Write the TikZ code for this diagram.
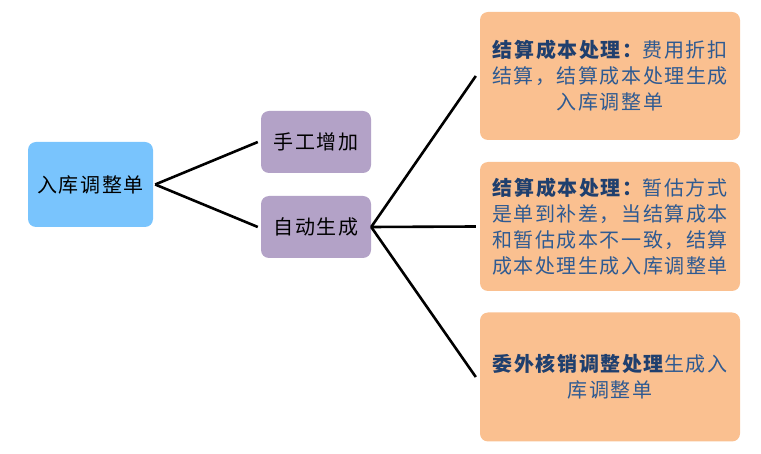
\documentclass[tikz,border=0pt]{standalone}
\usepackage{fontspec}
\newfontfamily\cjk[LetterSpace=8]{Noto Sans CJK SC}
\definecolor{rootblue}{HTML}{79C4FD}
\definecolor{subpurple}{HTML}{B3A2C7}
\definecolor{leaforange}{HTML}{FAC090}
\definecolor{boldblue}{HTML}{1F3F6E}
\definecolor{textblue}{HTML}{2E5A92}
\tikzset{
  box/.style={rectangle, rounded corners=8pt, inner sep=0pt, align=center,
    font=\cjk\fontsize{20}{26}\selectfont},
  rootbox/.style={box, fill=rootblue, minimum width=125pt, minimum height=85pt, text=black},
  subbox/.style={box, fill=subpurple, minimum width=110pt, minimum height=62pt, text=black},
  leafbox/.style={box, fill=leaforange, minimum width=260pt, minimum height=129pt, text=textblue},
  link/.style={line width=2.6pt, black}
}
\begin{document}
\begin{tikzpicture}[x=1pt,y=-1pt]
\useasboundingbox (0,0) rectangle (761,454);
\node[rootbox] (root) at (90.5,184.5) {入库调整单};
\node[subbox] (manual) at (316,142) {手工增加};
\node[subbox] (auto) at (316,227) {自动生成};
\node[leafbox, minimum height=128pt] (leafa) at (610,76) {\textbf{\color{boldblue}结算成本处理：}费用折扣\\结算，结算成本处理生成\\入库调整单};
\node[leafbox] (leafb) at (610,226.5) {\textbf{\color{boldblue}结算成本处理：}暂估方式\\是单到补差，当结算成本\\和暂估成本不一致，结算\\成本处理生成入库调整单};
\node[leafbox] (leafc) at (610,377) {\textbf{\color{boldblue}委外核销调整处理}生成入\\库调整单};
\coordinate (rootout) at ([xshift=2pt]root.east);
\draw[link] (rootout) -- ([xshift=-3pt]manual.west);
\draw[link] (rootout) -- ([xshift=-3pt]auto.west);
\draw[link] (auto.east) -- ([xshift=-4pt]leafa.west);
\draw[link] (auto.east) -- ([xshift=-4pt]leafb.west);
\draw[link] (auto.east) -- ([xshift=-4pt]leafc.west);
\end{tikzpicture}
\end{document}
